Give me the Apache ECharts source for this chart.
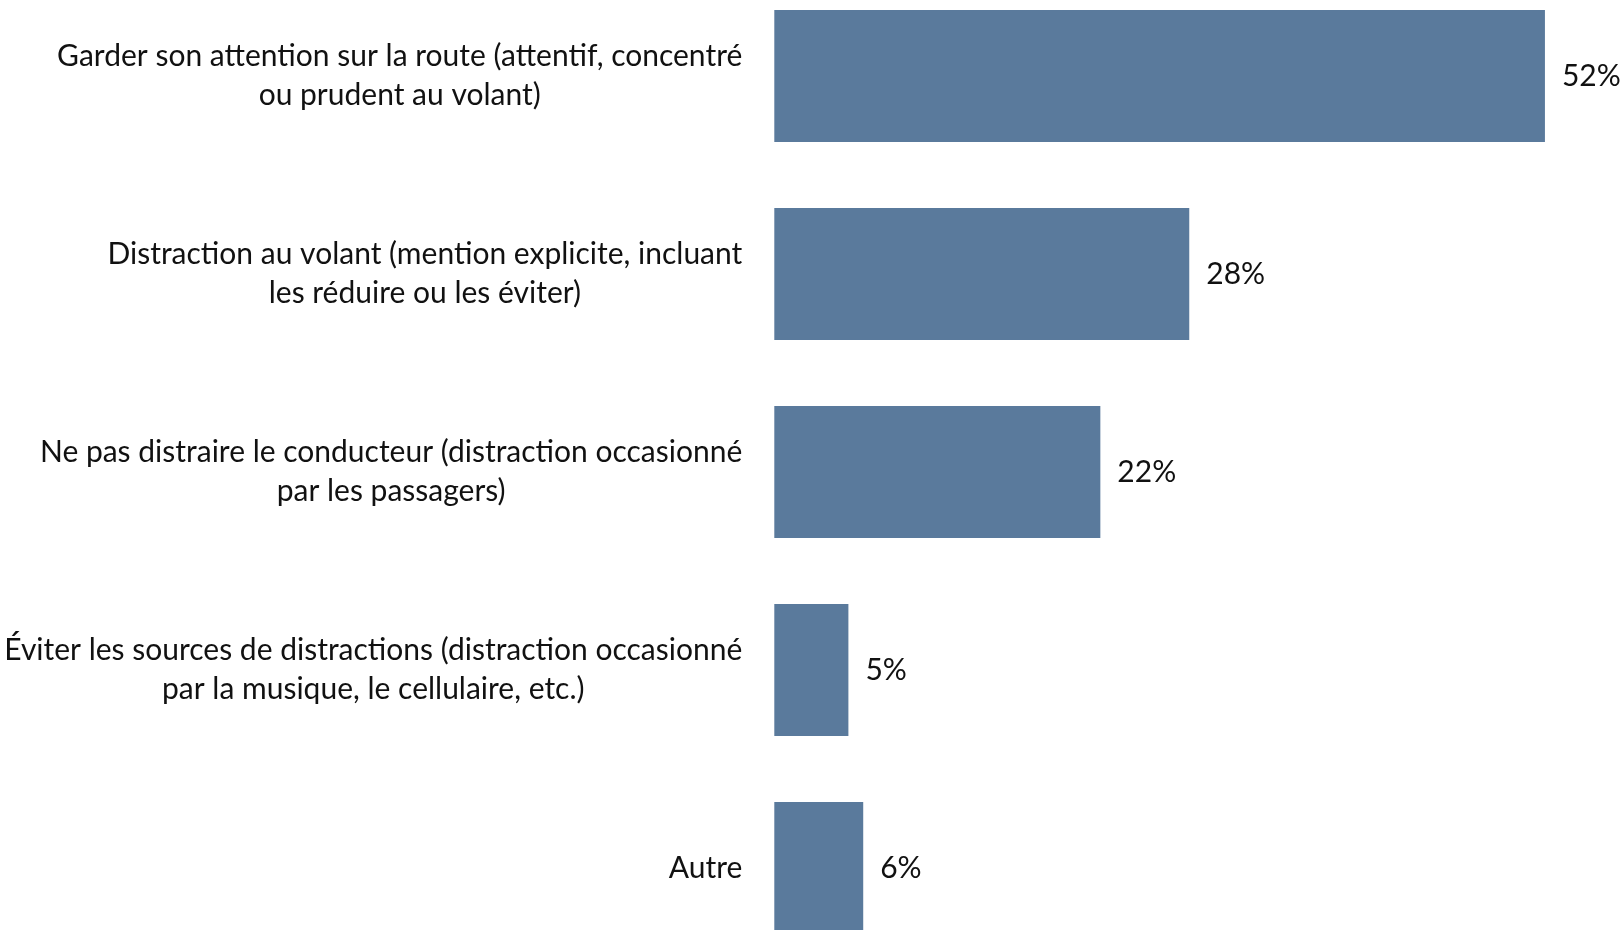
<!DOCTYPE html>
<html>
<head>
<meta charset="utf-8">
<script src="https://cdn.jsdelivr.net/npm/echarts@6/dist/echarts.min.js"></script>
<style>
  html, body { margin: 0; padding: 0; background: #ffffff; }
  #chart { width: 1623px; height: 930px; }
</style>
</head>
<body>
<div id="chart"></div>
<script>
const categories = [
  "Garder son attention sur la route (attentif, concentré\nou prudent au volant)",
  "Distraction au volant (mention explicite, incluant\nles réduire ou les éviter)",
  "Ne pas distraire le conducteur (distraction occasionné\npar les passagers)",
  "Éviter les sources de distractions (distraction occasionné\npar la musique, le cellulaire, etc.)",
  "Autre"
];
const values = [52, 28, 22, 5, 6];

const FONT = "Lato";
const FS = 30;

const chart = echarts.init(document.getElementById('chart'), null, { renderer: 'canvas' });
chart.setOption({
  backgroundColor: '#ffffff',
  animation: false,
  grid: { left: 774.3, top: -23, height: 990, width: 889.2, containLabel: false, outerBoundsMode: 'none' },
  xAxis: {
    type: 'value', min: 0, max: 60,
    show: false
  },
  yAxis: {
    type: 'category',
    data: categories,
    inverse: true,
    axisLine: { show: false },
    axisTick: { show: false },
    splitLine: { show: false },
    axisLabel: {
      margin: 32,
      align: 'right',
      color: '#111111',
      fontFamily: FONT,
      fontSize: FS,
      lineHeight: 39,
      formatter: function (v) {
        return v.split('\n').map(function (l) { return '{c|' + l + '}'; }).join('\n');
      },
      rich: {
        c: { align: 'center', fontFamily: FONT, fontSize: FS, lineHeight: 39, color: '#111111' }
      }
    }
  },
  series: [{
    type: 'bar',
    data: values,
    barCategoryGap: '33.3%',
    itemStyle: { color: '#5A7A9C' },
    label: {
      show: true,
      position: 'right',
      distance: 17,
      formatter: '{c}%',
      color: '#111111',
      fontFamily: FONT,
      fontSize: FS
    }
  }]
});
</script>
</body>
</html>
